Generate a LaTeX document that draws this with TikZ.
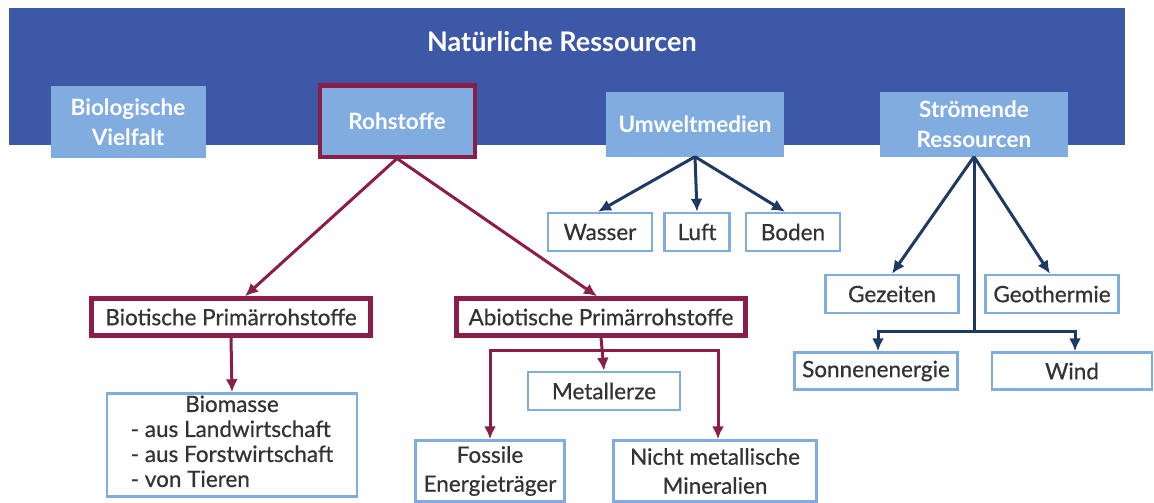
\documentclass[tikz,border=0pt]{standalone}
\usepackage{fontspec}
\setmainfont{Lato}
\newfontfamily\latomed{Lato}[FakeBold=0.6]
\usepackage{tikz}
\usetikzlibrary{positioning, arrows.meta}

\definecolor{bannerblue}{RGB}{62,88,168}
\definecolor{boxblue}{RGB}{128,172,224}
\definecolor{rawred}{RGB}{139,30,72}
\definecolor{navy}{RGB}{31,56,100}
\definecolor{textgray}{RGB}{51,51,51}

\begin{document}
\begin{tikzpicture}[
  x=1pt, y=-1pt,
  font=\latomed\fontsize{22.5}{29}\selectfont,
  cat/.style={fill=boxblue, text=white, align=center, inner sep=0pt,
    font=\fontsize{22.5}{30}\selectfont\bfseries},
  rawcat/.style={cat, draw=rawred, line width=4pt},
  leaf/.style={draw=boxblue, line width=2.5pt, fill=white, text=textgray,
    align=center, inner sep=0pt},
  rawleaf/.style={leaf, draw=rawred, line width=4.5pt},
  redarrow/.style={-{Latex[length=13pt,width=12pt]}, rawred, line width=3pt},
  bluearrow/.style={-{Latex[length=13pt,width=12pt]}, navy, line width=3pt},
  navyline/.style={navy, line width=3pt},
]
  \useasboundingbox (0,0) rectangle (1154,503);

  % Banner
  \node[fill=bannerblue, minimum width=1116pt, minimum height=137pt,
    inner sep=0pt] (banner) at (567,76.5) {};
  \node[text=white, font=\fontsize{27}{32}\selectfont\bfseries] (title)
    at (562,42) {Natürliche Ressourcen};

  % Categories
  \node[cat, minimum width=155pt, minimum height=72pt] (bio) at (128,122)
    {Biologische\\Vielfalt};
  \node[rawcat, minimum width=155pt, minimum height=71pt] (roh) at (397,121)
    {Rohstoffe};
  \node[cat, minimum width=178pt, minimum height=65pt] (umw) at (695,124)
    {Umweltmedien};
  \node[cat, minimum width=188pt, minimum height=65pt] (strom) at (974,124)
    {Strömende\\Ressourcen};

  % Umweltmedien
  \node[leaf, minimum width=104pt, minimum height=38pt] (wasser) at (600,232) {Wasser};
  \node[leaf, minimum width=65pt, minimum height=38pt] (luft) at (697,232) {Luft};
  \node[leaf, minimum width=94pt, minimum height=38pt] (boden) at (793,232) {Boden};

  % Stroemende Ressourcen
  \node[leaf, minimum width=133pt, minimum height=38pt] (gez) at (892,294) {Gezeiten};
  \node[leaf, minimum width=133pt, minimum height=38pt] (geo) at (1052,294) {Geothermie};
  \node[leaf, minimum width=163pt, minimum height=37pt] (sonne) at (876,371) {Sonnenenergie};
  \node[leaf, minimum width=160pt, minimum height=37pt] (wind) at (1072,371) {Wind};
  \coordinate (sjoin) at (974,331);

  % Rohstoffe
  \node[rawleaf, minimum width=279pt, minimum height=37pt] (biot) at (231,317)
    {Biotische Primärrohstoffe};
  \node[rawleaf, minimum width=289pt, minimum height=37pt] (abiot) at (601,317)
    {Abiotische Primärrohstoffe};
  \node[leaf, minimum width=250pt, minimum height=103pt,
    font=\latomed\fontsize{22.5}{25}\selectfont] (biomasse) at (232,445)
    {Biomasse\\\begin{tabular}[t]{@{}l@{}}- aus Landwirtschaft\\
      - aus Forstwirtschaft\\- von Tieren\end{tabular}};
  \node[leaf, minimum width=152pt, minimum height=38pt] (metall) at (604,391) {Metallerze};
  \node[leaf, minimum width=149pt, minimum height=61pt] (fossil) at (490,471)
    {Fossile\\Energieträger};
  \node[leaf, minimum width=203pt, minimum height=61pt] (nicht) at (715,471)
    {Nicht metallische\\Mineralien};
  \coordinate (ajoin) at (603,350);

  % Connectors
  \draw[bluearrow] (umw.south) -- ([xshift=-2pt]wasser.north);
  \draw[bluearrow] (umw.south) -- (luft.north);
  \draw[bluearrow] (umw.south) -- ([xshift=-8pt]boden.north);

  \draw[bluearrow] (strom.south) -- (gez.north);
  \draw[bluearrow] (strom.south) -- ([xshift=-2pt]geo.north);
  \draw[navyline] (strom.south) -- (sjoin);
  \draw[bluearrow] (sjoin) -| ([xshift=2pt]sonne.north);
  \draw[bluearrow] (sjoin) -| ([xshift=3pt]wind.north);

  \draw[redarrow] (roh.south) -- ([xshift=14pt]biot.north);
  \draw[redarrow] (roh.south) -- ([xshift=-4pt]abiot.north);
  \draw[redarrow] (biot.south) -- (biomasse.north);
  \draw[redarrow] (abiot.south) -- (metall.north);
  \draw[redarrow] (ajoin) -| (fossil.north);
  \draw[redarrow] (ajoin) -| ([xshift=3pt]nicht.north);
\end{tikzpicture}
\end{document}
